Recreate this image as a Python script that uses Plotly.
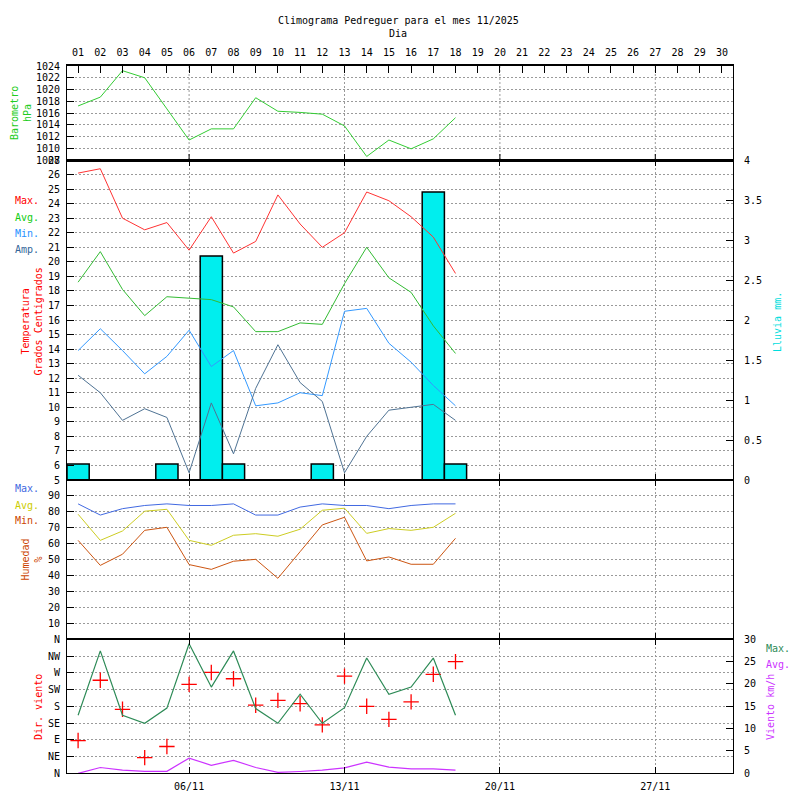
import plotly.graph_objects as go

# ---------------- data ----------------
DAYS = list(range(1, 19))
ALL_DAYS = list(range(1, 31))
DAY_LABELS = [f"{d:02d}" for d in ALL_DAYS]
WEEK_DAYS = [6, 13, 20, 27]
WEEK_LABELS = ["06/11", "13/11", "20/11", "27/11"]

BARO = [1017.2, 1018.7, 1023.2, 1022.0, 1016.7, 1011.4, 1013.3, 1013.3, 1018.6,
        1016.3, 1016.1, 1015.8, 1013.8, 1008.6, 1011.4, 1009.9, 1011.6, 1015.2]
BARO_TICKS = list(range(1008, 1025, 2))

T_MAX = [26.1, 26.4, 23.0, 22.2, 22.7, 20.8, 23.1, 20.6, 21.4, 24.6, 22.6, 21.0,
         22.0, 24.8, 24.2, 23.1, 21.7, 19.2]
T_AVG = [18.6, 20.7, 18.1, 16.3, 17.6, 17.5, 17.4, 16.9, 15.2, 15.2, 15.8, 15.7,
         18.5, 21.0, 18.9, 17.9, 15.6, 13.7]
T_MIN = [13.9, 15.4, 13.9, 12.3, 13.5, 15.3, 12.8, 13.9, 10.1, 10.3, 11.0, 10.8,
         16.6, 16.8, 14.4, 13.1, 11.5, 10.1]
T_AMP = [12.2, 11.0, 9.1, 9.9, 9.3, 5.5, 10.3, 6.8, 11.3, 14.3, 11.7, 10.4,
         5.5, 8.0, 9.8, 10.0, 10.2, 9.1]
TEMP_TICKS = list(range(5, 28))

RAIN = [0.2, 0, 0, 0, 0.2, 0, 2.8, 0.2, 0, 0, 0, 0.2, 0, 0, 0, 0, 3.6, 0.2]
RAIN_TICKS = [0, 0.5, 1, 1.5, 2, 2.5, 3, 3.5, 4]

H_MAX = [85, 78, 82, 84, 85, 84, 84, 85, 78, 78, 83, 85, 84, 84, 82, 84, 85, 85]
H_AVG = [78.5, 62.1, 68.0, 80.4, 81.6, 62.1, 59.0, 65.3, 66.3, 64.7, 69.1, 81.0,
         82.3, 66.5, 69.5, 68.4, 70.3, 79.1]
H_MIN = [62.1, 46.4, 53.4, 68.4, 70.3, 46.9, 43.9, 49.0, 50.2, 38.3, 55.0, 71.8,
         76.6, 49.2, 51.7, 47.1, 47.1, 63.4]
HUM_TICKS = list(range(10, 100, 10))

W_MAX = [13.0, 27.4, 13.0, 11.2, 14.6, 29.0, 19.3, 27.4, 14.5, 11.2, 17.7, 11.2,
         14.7, 25.8, 17.7, 19.3, 25.8, 13.0]
W_AVG = [0.0, 1.3, 0.7, 0.45, 0.45, 3.4, 1.8, 2.9, 1.3, 0.2, 0.4, 0.7,
         1.2, 2.5, 1.4, 1.0, 1.0, 0.7]
W_DIR = [88, 250, 172, 42, 72, 239, 271, 254, 183, 196, 187, 130,
         261, 180, 145, 192, 266, 300]
DIR_TICKS = [0, 45, 90, 135, 180, 225, 270, 315, 360]
DIR_LABELS = ["N", "NE", "E", "SE", "S", "SW", "W", "NW", "N"]
WIND_TICKS = [0, 5, 10, 15, 20, 25, 30]

# ---------------- style ----------------
FONT = "DejaVu Sans Mono"
FS = 10
GRID = "#9a9a9a"
DASH = "2px,2px"
W = 800.0
OFF = 8.0  # default page body margin


def px_x(p):
    return (p - OFF) / W


def py(p):
    return 1 - (p - OFF) / W


XDOM = [px_x(67), px_x(733)]
BARO_DOM = [py(160), py(66)]
TEMP_DOM = [py(480), py(160)]
HUM_DOM = [py(639.3), py(480)]
WIND_DOM = [py(773.3), py(639.3)]

rain_plot = [r if r > 0 else None for r in RAIN]

fig = go.Figure()

# barometer
fig.add_trace(go.Scatter(x=DAYS, y=BARO, mode="lines", line=dict(color="#33cc33", width=1),
                         xaxis="x", yaxis="y"))
# rain (base axis of temperature panel)
fig.add_trace(go.Bar(x=DAYS, y=rain_plot, width=1, marker=dict(color="#00eeee", line=dict(color="black", width=1.5)),
                     xaxis="x2", yaxis="y2"))
# temperatures (overlay)
for vals, col in [(T_MAX, "#ff3333"), (T_AVG, "#33bb33"), (T_MIN, "#3399ff"), (T_AMP, "#4f7394")]:
    fig.add_trace(go.Scatter(x=DAYS, y=vals, mode="lines", line=dict(color=col, width=1),
                             xaxis="x2", yaxis="y3"))
# humidity
for vals, col in [(H_MAX, "#4169e1"), (H_AVG, "#cccc22"), (H_MIN, "#cc5511")]:
    fig.add_trace(go.Scatter(x=DAYS, y=vals, mode="lines", line=dict(color=col, width=1),
                             xaxis="x3", yaxis="y4"))
# wind direction
fig.add_trace(go.Scatter(x=DAYS, y=W_DIR, mode="markers",
                         marker=dict(symbol="cross-thin", size=11, line=dict(color="#ff0000", width=1.3)),
                         xaxis="x4", yaxis="y5"))
# wind speeds (overlay)
fig.add_trace(go.Scatter(x=DAYS, y=W_MAX, mode="lines", line=dict(color="#2e8b57", width=1.2),
                         xaxis="x4", yaxis="y6"))
fig.add_trace(go.Scatter(x=DAYS, y=W_AVG, mode="lines", line=dict(color="#cc33ff", width=1.2),
                         xaxis="x4", yaxis="y6"))

tickfont = dict(family=FONT, size=FS, color="black")


def xax(anchor, **kw):
    d = dict(domain=XDOM, anchor=anchor, range=[0.5, 30.5], showline=True, mirror="ticks",
             linecolor="black", linewidth=1, ticks="inside", ticklen=6, tickcolor="black",
             tickvals=WEEK_DAYS, showticklabels=False, showgrid=True, gridcolor=GRID,
             griddash=DASH, gridwidth=1, zeroline=False, tickfont=tickfont, automargin=False)
    d.update(kw)
    return d


def yax(dom, rng, vals, **kw):
    d = dict(domain=dom, range=rng, tickvals=vals, showline=True, mirror=True, linecolor="black",
             linewidth=1, ticks="inside", ticklen=7, tickcolor="black", showgrid=True,
             gridcolor=GRID, griddash=DASH, gridwidth=1, zeroline=False, tickfont=tickfont,
             ticklabelstandoff=4, automargin=False)
    d.update(kw)
    return d


fig.update_layout(
    width=800, height=800, autosize=False,
    margin=dict(l=0, r=0, t=0, b=0),
    paper_bgcolor="white", plot_bgcolor="rgba(0,0,0,0)",
    showlegend=False, barmode="overlay",
    font=dict(family=FONT, size=FS, color="black"),
    xaxis=xax("y", side="top", tickvals=ALL_DAYS, ticktext=DAY_LABELS, showticklabels=True,
              showgrid=False, mirror=True, linewidth=2, ticklen=7, ticklabelstandoff=4),
    yaxis=yax(BARO_DOM, [1008, 1024], BARO_TICKS, anchor="x"),
    xaxis2=xax("y2"),
    yaxis2=yax(TEMP_DOM, [0, 4], RAIN_TICKS, anchor="x2", side="right", showgrid=False,
               ticklabelstandoff=8),
    yaxis3=yax(TEMP_DOM, [5, 27], TEMP_TICKS, anchor="x2", overlaying="y2", side="left"),
    xaxis3=xax("y4"),
    yaxis4=yax(HUM_DOM, [0, 100], HUM_TICKS, anchor="x3"),
    xaxis4=xax("y5", tickvals=WEEK_DAYS, ticktext=WEEK_LABELS, showticklabels=True,
               ticklabelstandoff=4),
    yaxis5=yax(WIND_DOM, [0, 360], DIR_TICKS, anchor="x4", ticktext=DIR_LABELS),
    yaxis6=yax(WIND_DOM, [0, 30], WIND_TICKS, anchor="x4", overlaying="y5", side="right",
               showgrid=False, ticklabelstandoff=8),
)

# barometer panel: weekly dotted grid and major ticks at bottom edge
shapes = []
for d in WEEK_DAYS:
    shapes.append(dict(type="line", xref="x", yref="y domain", x0=d, x1=d, y0=0, y1=1,
                       line=dict(color=GRID, width=1, dash=DASH), layer="below"))
    shapes.append(dict(type="line", xref="x", yref="y domain", x0=d, x1=d, y0=0, y1=6 / 94,
                       line=dict(color="black", width=1), layer="above"))
fig.update_layout(shapes=shapes)


def ann(text, x, y, color="black", angle=0):
    return dict(text=text, x=px_x(x), y=py(y), xref="paper", yref="paper", showarrow=False,
                font=dict(family=FONT, size=FS, color=color), textangle=angle,
                xanchor="center", yanchor="middle")


anns = [
    ann("Climograma Pedreguer para el mes 11/2025", 398, 20),
    ann("Dia", 398, 33),
    ann("Barometro<br>hPa", 21, 113, "#22cc22", -90),
    ann("Temperatura<br>Grados Centigrados", 31.5, 322, "#ff0000", -90),
    ann("Max.", 27, 201, "#ff0000"),
    ann("Avg.", 27, 217, "#11cc11"),
    ann("Min.", 27, 233, "#1e90ff"),
    ann("Amp.", 27, 249, "#336699"),
    ann("Max.", 27, 488, "#4169e1"),
    ann("Avg.", 27, 505, "#cccc00"),
    ann("Min.", 27, 520, "#cc4400"),
    ann("Humedad<br>%", 31.5, 560, "#cc4400", -90),
    ann("Dir. viento", 38, 707, "#ff0000", -90),
    ann("Lluvia mm.", 777, 322, "#00dddd", -90),
    ann("Max.", 778, 648, "#2e8b57"),
    ann("Avg.", 778, 664, "#cc33ff"),
    ann("Viento km/h", 770, 707, "#cc33ff", -90),
]
fig.update_layout(annotations=anns)

fig.write_html("out.html")
